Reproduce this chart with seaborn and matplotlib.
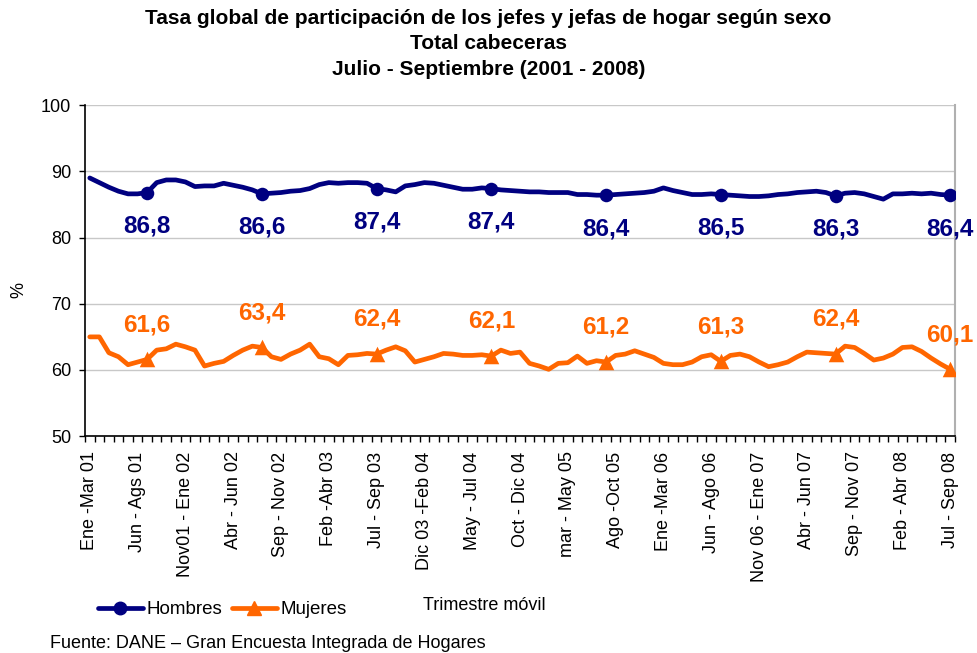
import matplotlib.pyplot as plt
import seaborn as sns
import pandas as pd
import numpy as np
from matplotlib.lines import Line2D

# Rolling quarters Ene-Mar 01 ... Jul-Sep 08 (91 periods)
tick_labels = ["Ene -Mar 01", "Jun - Ags 01", "Nov01 - Ene 02", "Abr - Jun 02",
               "Sep - Nov 02", "Feb -Abr 03", "Jul - Sep 03", "Dic 03 -Feb 04",
               "May - Jul 04", "Oct - Dic 04", "mar - May 05", "Ago -Oct 05",
               "Ene -Mar 06", "Jun - Ago 06", "Nov 06 - Ene 07", "Abr - Jun 07",
               "Sep - Nov 07", "Feb - Abr 08", "Jul - Sep 08"]

hombres = [89.0, 88.3, 87.6, 87.0, 86.6, 86.6, 86.8, 88.3, 88.7, 88.7,
           88.4, 87.7, 87.8, 87.8, 88.2, 87.9, 87.6, 87.2, 86.6, 86.7,
           86.8, 87.0, 87.1, 87.4, 88.0, 88.3, 88.2, 88.3, 88.3, 88.2,
           87.4, 87.2, 86.9, 87.8, 88.0, 88.3, 88.2, 87.9, 87.6, 87.3,
           87.3, 87.5, 87.4, 87.2, 87.1, 87.0, 86.9, 86.9, 86.8, 86.8,
           86.8, 86.5, 86.5, 86.4, 86.4, 86.5, 86.6, 86.7, 86.8, 87.0,
           87.5, 87.1, 86.8, 86.5, 86.5, 86.6, 86.5, 86.4, 86.3, 86.2,
           86.2, 86.3, 86.5, 86.6, 86.8, 86.9, 87.0, 86.8, 86.3, 86.7,
           86.8, 86.6, 86.2, 85.8, 86.6, 86.6, 86.7, 86.6, 86.7, 86.5,
           86.4]

mujeres = [65.0, 65.0, 62.6, 62.0, 60.8, 61.2, 61.6, 63.0, 63.2, 63.9,
           63.5, 63.0, 60.6, 61.0, 61.3, 62.2, 63.0, 63.6, 63.4, 62.0,
           61.6, 62.4, 63.0, 63.9, 62.0, 61.7, 60.8, 62.2, 62.3, 62.5,
           62.4, 63.0, 63.5, 62.9, 61.2, 61.6, 62.0, 62.5, 62.4, 62.2,
           62.2, 62.3, 62.1, 63.0, 62.5, 62.7, 61.0, 60.6, 60.1, 61.0,
           61.1, 62.1, 61.0, 61.4, 61.2, 62.2, 62.4, 62.9, 62.4, 61.9,
           61.0, 60.8, 60.8, 61.2, 62.0, 62.3, 61.3, 62.2, 62.4, 62.0,
           61.2, 60.5, 60.8, 61.2, 62.0, 62.7, 62.6, 62.5, 62.4, 63.6,
           63.4, 62.5, 61.5, 61.8, 62.4, 63.4, 63.5, 62.8, 61.8, 60.9,
           60.1]

# Jul-Sep quarters, the labelled points
jul_sep = [6, 18, 30, 42, 54, 66, 78, 90]

navy = "#000080"
orange = "#FF6600"

df = pd.DataFrame({"t": np.arange(len(hombres)), "Hombres": hombres, "Mujeres": mujeres})
pts = df.iloc[jul_sep]

sns.set_theme(style="white")
plt.rcParams["font.family"] = ["Liberation Sans", "DejaVu Sans"]
plt.rcParams.update({"text.color": "black", "axes.labelcolor": "black",
                     "xtick.color": "black", "ytick.color": "black"})

fig = plt.figure(figsize=(9.77, 6.53), dpi=100)
ax = fig.add_axes([0.087, 0.332, 0.8905, 0.507])

ax.grid(axis="y", color="#c8c8c8", lw=1)
ax.set_axisbelow(True)

sns.lineplot(data=df, x="t", y="Hombres", color=navy, lw=3.4, ax=ax)
sns.lineplot(data=df, x="t", y="Mujeres", color=orange, lw=3.4, ax=ax)
sns.scatterplot(data=pts, x="t", y="Hombres", marker="o", s=95, color=navy,
                edgecolor=navy, linewidth=0, ax=ax, zorder=4)
sns.scatterplot(data=pts, x="t", y="Mujeres", marker="^", s=125, color=orange,
                edgecolor=orange, linewidth=0, ax=ax, zorder=4)

for _, r in pts.iterrows():
    ax.annotate(f"{r['Hombres']:.1f}".replace(".", ","), (r["t"], r["Hombres"]),
                xytext=(0, -24), textcoords="offset points", ha="center", va="center",
                fontsize=17.5, fontweight="bold", color=navy)
    ax.annotate(f"{r['Mujeres']:.1f}".replace(".", ","), (r["t"], r["Mujeres"]),
                xytext=(0, 25), textcoords="offset points", ha="center", va="center",
                fontsize=17.5, fontweight="bold", color=orange)

ax.set_xlim(-0.5, len(hombres) - 0.5)
ax.set_ylim(50, 100)
ax.set_yticks(range(50, 101, 10))
ax.set_xticks(range(0, len(hombres), 5))
ax.set_xticklabels(tick_labels, rotation=90)
ax.set_xticks(np.arange(-0.5, len(hombres), 1), minor=True)
ax.tick_params(axis="x", which="major", length=0, pad=11, labelsize=13)
ax.tick_params(axis="x", which="minor", length=4, width=1, direction="out",
               bottom=True, color="black")
ax.tick_params(axis="y", length=4, width=1, direction="out", left=True, pad=6,
               labelsize=13)
ax.set_xlabel("")
ax.set_ylabel("")

for s in ["left", "bottom"]:
    ax.spines[s].set_color("black")
    ax.spines[s].set_linewidth(1.2)
ax.spines["top"].set_visible(False)
ax.spines["right"].set_color("#b0b0b0")
ax.spines["right"].set_linewidth(1.5)

fig.text(0.50, 0.972, "Tasa global de participación de los jefes y jefas de hogar según sexo",
         ha="center", va="center", fontsize=15, fontweight="bold")
fig.text(0.50, 0.933, "Total cabeceras", ha="center", va="center", fontsize=15,
         fontweight="bold")
fig.text(0.50, 0.894, "Julio - Septiembre (2001 - 2008)", ha="center", va="center",
         fontsize=15, fontweight="bold")

fig.text(0.019, 0.556, "%", rotation=90, ha="center", va="center", fontsize=13)
fig.text(0.496, 0.072, "Trimestre móvil", ha="center", va="center", fontsize=13)
fig.text(0.051, 0.015, "Fuente: DANE – Gran Encuesta Integrada de Hogares",
         ha="left", va="center", fontsize=13)

handles = [Line2D([], [], color=navy, lw=3.4, marker="o", markersize=9),
           Line2D([], [], color=orange, lw=3.4, marker="^", markersize=10)]
fig.legend(handles, ["Hombres", "Mujeres"], loc="center left",
           bbox_to_anchor=(0.1, 0.066), ncol=2, frameon=False, fontsize=13.5,
           handlelength=2.4, handletextpad=0.2, columnspacing=0.5,
           borderpad=0, borderaxespad=0)

fig.savefig("out.png", dpi=100)
